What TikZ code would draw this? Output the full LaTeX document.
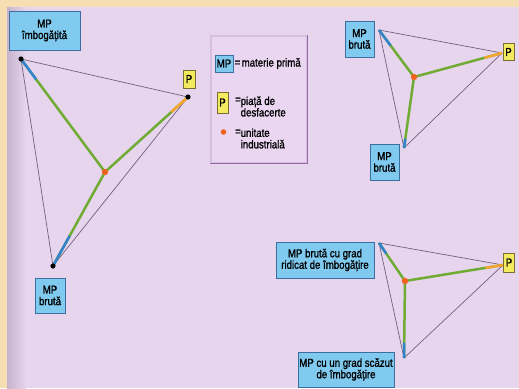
\documentclass[tikz,border=0pt]{standalone}
\usepackage{fontspec}
\setmainfont[FakeStretch=0.84,FakeBold=1.2]{Liberation Sans}
\usetikzlibrary{calc}
\definecolor{beigebg}{RGB}{246,222,178}
\definecolor{lilac}{RGB}{231,213,237}
\definecolor{lilacdark}{RGB}{196,180,204}
\definecolor{legfill}{RGB}{234,214,240}
\definecolor{legborder}{RGB}{150,105,165}
\definecolor{leglight}{RGB}{214,190,222}
\definecolor{boxblue}{RGB}{128,202,240}
\definecolor{boxborder}{RGB}{60,110,160}
\definecolor{pyellow}{RGB}{244,234,96}
\definecolor{pborder}{RGB}{120,110,50}
\definecolor{edgecol}{RGB}{115,95,130}
\definecolor{greenline}{RGB}{112,172,52}
\definecolor{blueline}{RGB}{50,130,205}
\definecolor{orangeline}{RGB}{246,166,46}
\definecolor{orangedot}{RGB}{240,100,32}
\tikzset{
  txt/.style={font=\fontsize{11.5}{11.5}\selectfont, text=black},
  mpbox/.style={txt, draw=boxborder, fill=boxblue, line width=0.8pt, inner sep=1pt, align=center},
  pbox/.style={txt, draw=pborder, fill=pyellow, line width=0.8pt, inner sep=0pt, align=center},
  edge/.style={draw=edgecol, line width=0.7pt},
  route/.style={draw=greenline, line width=2.5pt},
  rawseg/.style={draw=blueline, line width=2.5pt},
  mktseg/.style={draw=orangeline, line width=2.5pt},
  vdot/.style={fill=black},
  plant/.style={fill=orangedot},
}
\begin{document}
\begin{tikzpicture}[x=1pt,y=-1pt]
\useasboundingbox (0,0) rectangle (519,388);
% background
\fill[beigebg] (0,0) rectangle (519,388);
\fill[lilac] (7,7) rectangle (519,388);
\shade[left color=lilacdark, right color=lilac] (7,7) rectangle (26,388);

% ---------- triangle 1 ----------
\coordinate (A1) at (21,59);
\coordinate (B1) at (53,266);
\coordinate (P1) at (188,97);
\coordinate (O1) at (105,172);
\draw[edge] (A1) -- (P1) -- (B1) -- cycle;
\draw[route] (A1) -- (O1) -- (B1);
\draw[route] (O1) -- (P1);
\draw[rawseg] (A1) -- ($(A1)!0.18!(O1)$);
\draw[rawseg] (B1) -- ($(B1)!0.32!(O1)$);
\draw[mktseg] (P1) -- ($(P1)!0.2!(O1)$);
\fill[vdot] (A1) circle (2.6);
\fill[vdot] (B1) circle (2.6);
\fill[vdot] (P1) circle (2.6);
\fill[plant] (O1) circle (3.2);
\node[mpbox, minimum width=71pt, minimum height=39pt] (m1a) at (44.5,30.5) {MP\\îmbogățită};
\node[mpbox, minimum width=30pt, minimum height=35pt] (m1b) at (50,295.5) {MP\\brută};
\node[pbox, minimum width=12pt, minimum height=18pt] (p1) at (189,79) {P};

% ---------- legend ----------
\node[draw=leglight, fill=legfill, line width=1.2pt, minimum width=96pt, minimum height=127pt, inner sep=0pt] (leg) at (259,99.5) {};
\draw[legborder, line width=1.4pt] (leg.north east) -- (leg.south east) -- (leg.south west);
\node[mpbox, minimum width=18pt, minimum height=17pt, inner sep=0pt] (lmp) at (224,63.5) {MP};
\node[txt, anchor=west, inner sep=0pt] (leq1) at (234.5,63.5) {=};
\node[txt, anchor=west, inner sep=0pt] (lt1) at (241.5,63.5) {materie primă};
\node[pbox, minimum width=11pt, minimum height=21pt] (lp) at (222.5,102.5) {P};
\node[txt, anchor=west, inner sep=0pt] (leq2) at (235,100.5) {=};
\node[txt, anchor=west, inner sep=0pt, align=left] (lt2) at (240.5,106.5) {piață de\\desfacerte};
\fill[plant] (223.5,132) circle (2.8);
\node[txt, anchor=west, inner sep=0pt] (leq3) at (235,132.5) {=};
\node[txt, anchor=west, inner sep=0pt, align=left] (lt3) at (240.5,138.5) {unitate\\industrială};

% ---------- triangle 2 ----------
\coordinate (A2) at (379,30);
\coordinate (B2) at (404,148);
\coordinate (P2) at (502,53);
\coordinate (O2) at (414,77);
\draw[edge] (A2) -- (P2) -- (B2) -- cycle;
\draw[route] (A2) -- (O2) -- (B2);
\draw[route] (O2) -- (P2);
\draw[rawseg] (A2) -- ($(A2)!0.33!(O2)$);
\draw[rawseg] (B2) -- ($(B2)!0.13!(O2)$);
\draw[mktseg] (P2) -- ($(P2)!0.2!(O2)$);
\fill[plant] (O2) circle (3.2);
\node[mpbox, minimum width=29pt, minimum height=36pt] (m2a) at (359.5,39) {MP\\brută};
\node[mpbox, minimum width=29pt, minimum height=36pt] (m2b) at (384.5,162) {MP\\brută};
\node[pbox, minimum width=11pt, minimum height=17pt] (p2) at (508.5,52) {P};

% ---------- triangle 3 ----------
\coordinate (A3) at (379,243);
\coordinate (B3) at (404,358);
\coordinate (P3) at (503,265);
\coordinate (O3) at (405,281);
\draw[edge] (A3) -- (P3) -- (B3) -- cycle;
\draw[route] (A3) -- (O3) -- (B3);
\draw[route] (O3) -- (P3);
\draw[rawseg] (A3) -- ($(A3)!0.28!(O3)$);
\draw[rawseg] (B3) -- ($(B3)!0.2!(O3)$);
\draw[mktseg] (P3) -- ($(P3)!0.18!(O3)$);
\fill[plant] (O3) circle (3.2);
\node[mpbox, minimum width=98pt, minimum height=36pt] (m3a) at (325,260) {MP brută cu grad\\ridicat de îmbogățire};
\node[mpbox, minimum width=96pt, minimum height=35pt] (m3b) at (346,369.5) {MP cu un grad scăzut\\de îmbogățire};
\node[pbox, minimum width=11pt, minimum height=19pt] (p3) at (509,262.5) {P};
\end{tikzpicture}
\end{document}
